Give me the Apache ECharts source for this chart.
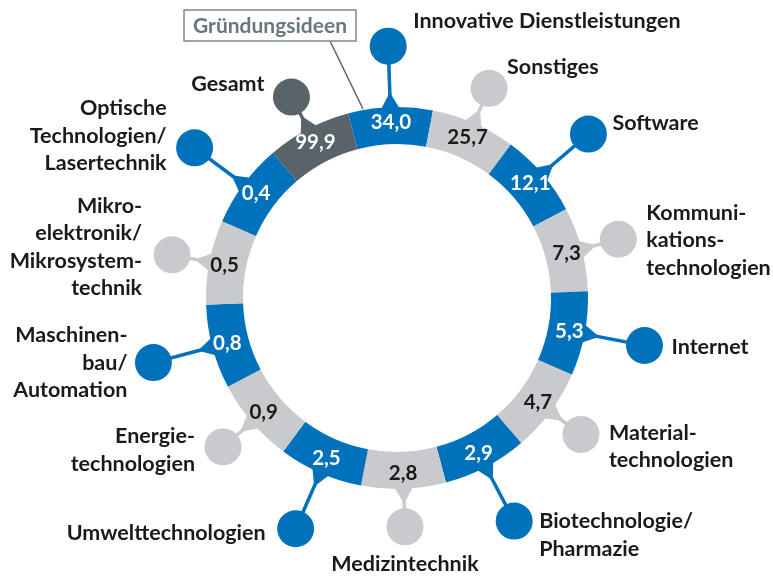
<!DOCTYPE html>
<html>
<head>
<meta charset="utf-8">
<script src="https://cdn.jsdelivr.net/npm/echarts@6/dist/echarts.min.js"></script>
<style>
  html, body { margin: 0; padding: 0; background: #fff; }
  #chart { width: 773px; height: 576px; }
</style>
</head>
<body>
<div id="chart"></div>
<script>
// Daten: Gründungsideen nach Bereich (clockwise ab 12 Uhr)
var categories = ['Innovative Dienstleistungen', 'Sonstiges', 'Software', 'Kommunikationstechnologien',
  'Internet', 'Materialtechnologien', 'Biotechnologie/Pharmazie', 'Medizintechnik',
  'Umwelttechnologien', 'Energietechnologien', 'Maschinenbau/Automation',
  'Mikroelektronik/Mikrosystemtechnik', 'Optische Technologien/Lasertechnik', 'Gesamt'];
var values = [34.0, 25.7, 12.1, 7.3, 5.3, 4.7, 2.9, 2.8, 2.5, 0.9, 0.8, 0.5, 0.4, 99.9];
var labelTexts = ['Innovative Dienstleistungen', 'Sonstiges', 'Software', 'Kommuni-\nkations-\ntechnologien',
  'Internet', 'Material-\ntechnologien', 'Biotechnologie/\nPharmazie', 'Medizintechnik',
  'Umwelttechnologien', 'Energie-\ntechnologien', 'Maschinen-\nbau/\nAutomation',
  'Mikro-\nelektronik/\nMikrosystem-\ntechnik', 'Optische\nTechnologien/\nLasertechnik', 'Gesamt'];
var boxTitle = 'Gründungsideen';

// Layout
var CX = 397, CY = 298, R_IN = 154, R_OUT = 191;
var ROT = 2;
var STEP = 360 / categories.length;
var BLUE = '#0071bb', GREY = '#c8cacd', DARK = '#58636a';
var FAMILY = 'Lato, "Noto Sans", sans-serif';
var FONT = 'bold 21.5px ' + FAMILY;
var segColors = [BLUE, GREY, BLUE, GREY, BLUE, GREY, BLUE, GREY, BLUE, GREY, BLUE, GREY, BLUE, DARK];
var pinDist = [252, 229, 252, 229, 252, 229, 252, 229, 252, 229, 252, 229, 252, 227];
// [dx, dy, align] relative to pin circle
var labelOffset = [
  [25, -25, 'left'], [18, -21, 'left'], [24, -11, 'left'], [28, 1, 'left'],
  [27, 2, 'left'], [28, 12, 'left'], [25, 14, 'left'], [0, 37, 'center'],
  [-30, 4, 'right'], [-28, 3, 'right'], [-26, 0, 'right'], [-30, -8, 'right'],
  [-28, -12, 'right'], [-27, -13, 'right']
];

function fmt(v) {
  return v.toFixed(1).replace('.', ',');
}

var pieData = categories.map(function (c, i) {
  return {
    name: c,
    value: 1,
    itemStyle: { color: segColors[i] },
    label: { color: segColors[i] === GREY ? '#1a1a1a' : '#ffffff' }
  };
});

function renderPin(params, api) {
  var i = params.dataIndex;
  var a = (90 + ROT - i * STEP) * Math.PI / 180;
  var ux = Math.cos(a), uy = -Math.sin(a);
  var tx = -uy, ty = ux;
  var b = R_OUT - 3, tip = R_OUT + 15;
  var d = pinDist[i];
  var col = segColors[i];
  var px = CX + ux * d, py = CY + uy * d;
  var off = labelOffset[i];
  return {
    type: 'group',
    children: [
      {
        type: 'polygon',
        shape: { points: [
          [CX + ux * b + tx * 10, CY + uy * b + ty * 10],
          [CX + ux * b - tx * 10, CY + uy * b - ty * 10],
          [CX + ux * tip, CY + uy * tip]
        ] },
        style: { fill: col }
      },
      {
        type: 'line',
        shape: { x1: CX + ux * (tip - 5), y1: CY + uy * (tip - 5), x2: px, y2: py },
        style: { stroke: col, lineWidth: 3.5 }
      },
      {
        type: 'circle',
        shape: { cx: px, cy: py, r: 18.5 },
        style: { fill: col }
      },
      {
        type: 'text',
        style: {
          text: labelTexts[i],
          x: px + off[0], y: py + off[1],
          align: off[2], verticalAlign: 'middle',
          font: FONT, lineHeight: 27.5, fill: '#1a1a1a'
        }
      }
    ]
  };
}

var chart = echarts.init(document.getElementById('chart'));
chart.setOption({
  backgroundColor: '#ffffff',
  animation: false,
  graphic: [
    {
      type: 'line',
      shape: { x1: 330, y1: 41, x2: 363, y2: 109 },
      style: { stroke: DARK, lineWidth: 1.5 },
      z: 20
    },
    {
      type: 'rect',
      shape: { x: 184, y: 10, width: 172, height: 31 },
      style: { fill: '#ffffff', stroke: '#7d878e', lineWidth: 1.5 },
      z: 20
    },
    {
      type: 'text',
      x: 270, y: 26,
      style: {
        text: boxTitle, align: 'center', verticalAlign: 'middle',
        font: 'bold 21px ' + FAMILY, fill: '#6b777f'
      },
      z: 21
    }
  ],
  series: [
    {
      type: 'custom',
      coordinateSystem: 'none',
      silent: true,
      z: 1,
      data: categories.map(function (c, i) { return [i]; }),
      renderItem: renderPin
    },
    {
      type: 'pie',
      center: [CX, CY],
      radius: [R_IN, R_OUT],
      startAngle: 90 + ROT + STEP / 2,
      clockwise: true,
      silent: true,
      z: 2,
      itemStyle: { borderWidth: 0 },
      label: {
        show: true,
        position: 'inside',
        fontFamily: FAMILY,
        fontWeight: 'bold',
        fontSize: 20.5,
        formatter: function (p) { return fmt(values[p.dataIndex]); }
      },
      labelLine: { show: false },
      data: pieData
    }
  ]
});
</script>
</body>
</html>
